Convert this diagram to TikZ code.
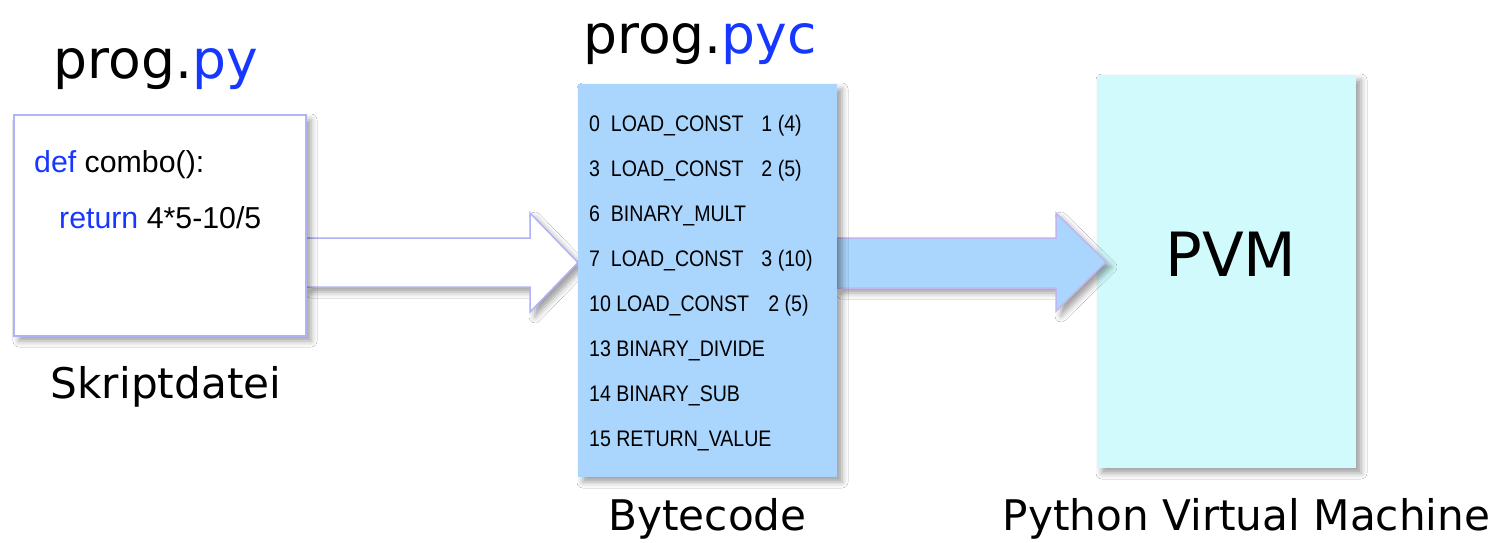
\documentclass[tikz,border=0pt]{standalone}
\usepackage{fontspec}
\setmainfont{DejaVu Sans}
\newfontfamily\codefont{Liberation Sans}
\newfontfamily\bcfont[FakeStretch=0.87]{Liberation Sans}
\usetikzlibrary{shadows.blur,calc}
\definecolor{kwblue}{RGB}{22,55,255}
\definecolor{edgeviolet}{RGB}{178,178,246}
\definecolor{bcblue}{RGB}{170,213,253}
\definecolor{pvmcyan}{RGB}{208,250,252}
\definecolor{arrowedge}{RGB}{192,182,240}

\begin{document}
\begin{tikzpicture}[x=1pt,y=-1pt,
  dropshadow/.style={blur shadow={shadow xshift=5pt,shadow yshift=-5pt,
      shadow blur radius=6pt,shadow opacity=38}},
  panel/.style={rectangle,inner sep=0pt,outer sep=0pt},
  title/.style={anchor=base,inner sep=0pt,font=\fontsize{53.5}{60}\selectfont},
  caption/.style={anchor=base,inner sep=0pt,font=\fontsize{42.2}{50}\selectfont},
  codeline/.style={anchor=base west,inner sep=0pt,font=\codefont\fontsize{30.3}{36}\selectfont},
  bcline/.style={anchor=base west,inner sep=0pt,font=\bcfont\fontsize{22.5}{27}\selectfont},
  blockarrow/.style={line width=1.5pt,line join=miter,dropshadow}]

\useasboundingbox[fill=white] (0,0) rectangle (1504,542);

% the three stage blocks (outlines only; filled below in stacking order)
\path node[panel,minimum width=292pt,minimum height=221pt] (script) at (160,225.5) {}
      node[panel,minimum width=259pt,minimum height=393pt] (bc) at (707.5,280.5) {}
      node[panel,minimum width=259pt,minimum height=393pt] (pvm) at (1226.5,271.5) {};

% virtual machine block (lowest, the second arrow's tip lies over it)
\fill[pvmcyan,dropshadow] (pvm.south west) rectangle (pvm.north east);
\node[anchor=base,inner sep=0pt,font=\fontsize{61}{70}\selectfont] (pvmlabel) at (1231,276) {PVM};

% block arrows between the stages
\draw[blockarrow,fill=white,draw=edgeviolet]
  (script.east |- 0,238) -- (530,238) -- (530,213) -- (bc.west |- 0,262.5)
  -- (530,312) -- (530,287) -- (script.east |- 0,287) -- cycle;
\draw[blockarrow,fill=bcblue,draw=arrowedge]
  (bc.east |- 0,238) -- (1056,238) -- (1056,213) -- ($(pvm.west |- 0,262)+(9,0)$)
  -- (1056,311) -- (1056,288) -- (bc.east |- 0,288) -- cycle;

% source file and bytecode blocks cover the arrow tails
\draw[fill=white,draw=edgeviolet,line width=1.2pt,dropshadow]
  (script.south west) rectangle (script.north east);
\fill[bcblue,dropshadow] (bc.south west) rectangle (bc.north east);

\node[codeline] (code1) at (34,172) {\textcolor{kwblue}{def} combo():};
\node[codeline] (code2) at (59,228) {\textcolor{kwblue}{return} 4*5-10/5};

\foreach \txt [count=\i from 0] in {
    {0\hspace{10.8pt}LOAD\_CONST\hspace{17.9pt}1 (4)},
    {3\hspace{10.8pt}LOAD\_CONST\hspace{17.9pt}2 (5)},
    {6\hspace{10.8pt}BINARY\_MULT},
    {7\hspace{10.8pt}LOAD\_CONST\hspace{17.9pt}3 (10)},
    {10\hspace{5.4pt}LOAD\_CONST\hspace{19.3pt}2 (5)},
    {13\hspace{5.4pt}BINARY\_DIVIDE},
    {14\hspace{5.4pt}BINARY\_SUB},
    {15\hspace{5.4pt}RETURN\_VALUE}}
  \node[bcline] (op\i) at (589,{131+45.14*\i}) {\txt};

% titles and captions
\node[title] (pytitle) at (156,78) {prog.\textcolor{kwblue}{py}};
\node[title] (pyctitle) at (700,53) {prog.\textcolor{kwblue}{pyc}};
\node[caption] (scriptcap) at (166,398) {Skriptdatei};
\node[caption] (bccap) at (707.5,530) {Bytecode};
\node[caption] (pvmcap) at (1246.5,530) {Python Virtual Machine};
\end{tikzpicture}
\end{document}
